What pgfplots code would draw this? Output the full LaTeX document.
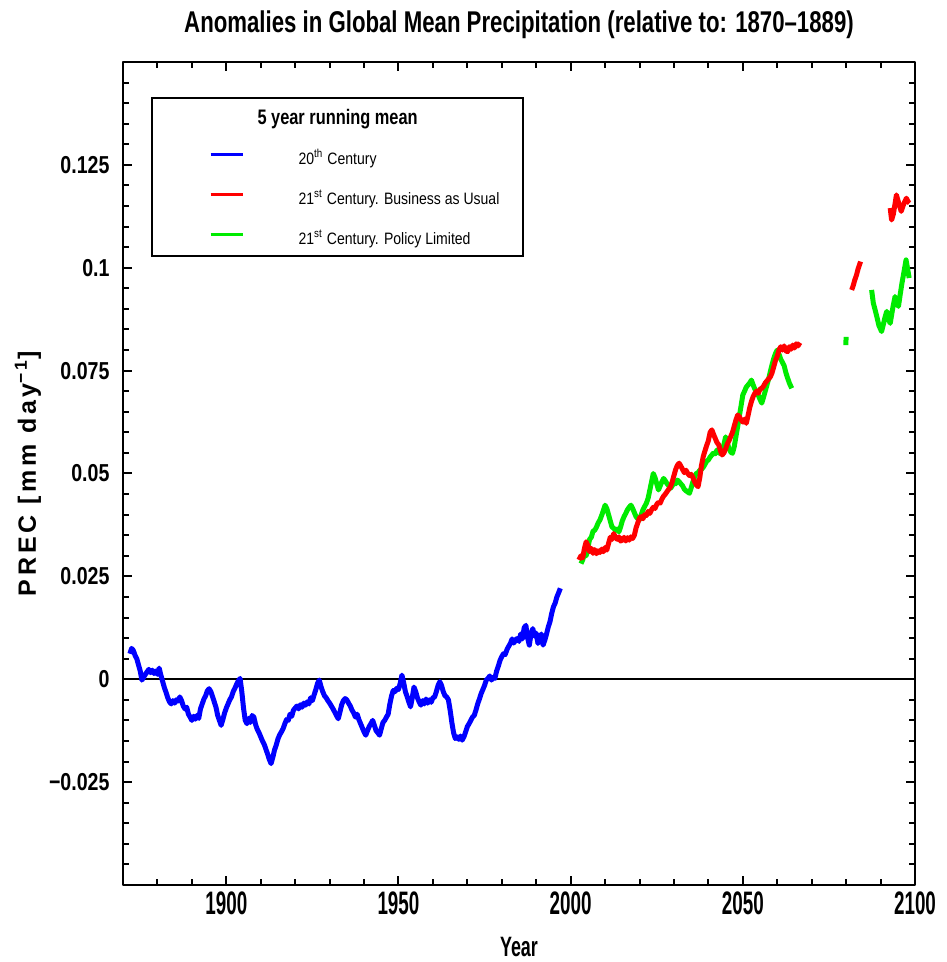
\documentclass[border=0pt]{standalone}
\usepackage{fontspec}
\usepackage{pgfplots}
\pgfplotsset{compat=1.18}
\setmainfont{Liberation Sans}
\newfontfamily\titlefont{Liberation Sans}[FakeStretch=0.74]
\newfontfamily\xtickfont{Liberation Sans}[FakeStretch=0.58]
\newfontfamily\xlabfont{Liberation Sans}[FakeStretch=0.64]
\newfontfamily\ytickfont{Liberation Sans}[FakeStretch=0.80]
\newfontfamily\legtitlefont{Liberation Sans}[FakeStretch=0.78]
\newfontfamily\legfont{Liberation Sans}[FakeStretch=0.85]
\newfontfamily\ylabfont{Liberation Sans}[LetterSpace=15]
\definecolor{bauRed}{RGB}{255,0,0}
\definecolor{polGreen}{RGB}{0,235,0}
\definecolor{cenBlue}{RGB}{0,0,255}

\begin{document}
\begin{tikzpicture}
\begin{axis}[
  name=ax, scale only axis, width=316.8pt, height=329.2pt,
  xmin=1870, xmax=2100, ymin=-0.05, ymax=0.15,
  xtick={1900,1950,2000,2050,2100},
  xticklabels={1900,1950,2000,2050,2100},
  minor xtick={1880,1890,1900,1910,1920,1930,1940,1960,1970,1980,1990,2010,2020,2030,2040,2060,2070,2080,2090},
  ytick={-0.05,-0.025,0,0.025,0.05,0.075,0.1,0.125,0.15},
  yticklabels={,−0.025,0,0.025,0.05,0.075,0.1,0.125,},
  minor y tick num=4,
  tick align=inside, major tick length=3.6pt, minor tick length=2.4pt,
  every tick/.style={black, line width=0.8pt},
  axis line style={line width=0.9pt},
  xticklabel style={font=\xtickfont\bfseries\fontsize{13}{15}\selectfont, anchor=base, yshift=-11.6pt, inner sep=0pt},
  yticklabel style={font=\ytickfont\bfseries\fontsize{9.8}{11}\selectfont, anchor=east, xshift=-5.2pt, inner sep=0pt},
  title={Anomalies in Global Mean Precipitation (relative to: 1870–1889)},
  title style={at={(0.5,1)}, anchor=base, yshift=5.6pt, inner sep=0pt,
    font=\titlefont\bfseries\fontsize{12}{14}\selectfont},
  xlabel={Year},
  xlabel style={at={(axis description cs:0.5,0)}, anchor=base, yshift=-28.7pt, inner sep=0pt,
    font=\xlabfont\bfseries\fontsize{11.2}{13}\selectfont},
  ylabel={PREC [mm day\textsuperscript{−1}]},
  ylabel style={at={(axis description cs:-0.12,0.5)}, anchor=center, inner sep=0pt,
    font=\ylabfont\bfseries\fontsize{10}{12}\selectfont},
  line join=round,
]
% reference line at zero anomaly
\addplot[black, line width=1pt] coordinates {(1870,0) (2100,0)};

% 20th century, 5 year running mean
\addplot[cenBlue, line width=2pt] table {
1872.0 0.0062
1872.5 0.0075
1873.0 0.0070
1873.5 0.0058
1874.0 0.0050
1874.5 0.0035
1875.0 0.0020
1875.5 -0.0002
1876.0 0.0005
1876.5 0.0012
1877.0 0.0018
1877.5 0.0024
1878.0 0.0016
1878.5 0.0022
1879.0 0.0014
1879.5 0.0020
1880.0 0.0012
1880.5 0.0027
1881.0 0.0010
1881.5 -0.0005
1882.0 -0.0020
1882.5 -0.0032
1883.0 -0.0045
1883.5 -0.0055
1884.0 -0.0060
1884.5 -0.0052
1885.0 -0.0058
1885.5 -0.0050
1886.0 -0.0053
1886.5 -0.0043
1887.0 -0.0052
1887.5 -0.0065
1888.0 -0.0072
1888.5 -0.0068
1889.0 -0.0085
1889.5 -0.0092
1890.0 -0.0100
1890.5 -0.0090
1891.0 -0.0097
1891.5 -0.0088
1892.0 -0.0095
1892.5 -0.0072
1893.0 -0.0060
1893.5 -0.0048
1894.0 -0.0040
1894.5 -0.0028
1895.0 -0.0023
1895.5 -0.0030
1896.0 -0.0042
1896.5 -0.0055
1897.0 -0.0068
1897.5 -0.0088
1898.0 -0.0100
1898.5 -0.0112
1899.0 -0.0098
1899.5 -0.0082
1900.0 -0.0070
1900.5 -0.0060
1901.0 -0.0050
1901.5 -0.0043
1902.0 -0.0030
1902.5 -0.0022
1903.0 -0.0012
1903.5 -0.0004
1904.0 0.0002
1904.5 -0.0030
1905.0 -0.0070
1905.5 -0.0100
1906.0 -0.0108
1906.5 -0.0095
1907.0 -0.0105
1907.5 -0.0088
1908.0 -0.0092
1908.5 -0.0110
1909.0 -0.0122
1909.5 -0.0130
1910.0 -0.0140
1910.5 -0.0150
1911.0 -0.0158
1911.5 -0.0170
1912.0 -0.0182
1912.5 -0.0195
1913.0 -0.0205
1913.5 -0.0190
1914.0 -0.0172
1914.5 -0.0160
1915.0 -0.0145
1915.5 -0.0135
1916.0 -0.0128
1916.5 -0.0120
1917.0 -0.0108
1917.5 -0.0098
1918.0 -0.0100
1918.5 -0.0085
1919.0 -0.0090
1919.5 -0.0075
1920.0 -0.0070
1920.5 -0.0065
1921.0 -0.0072
1921.5 -0.0062
1922.0 -0.0068
1922.5 -0.0058
1923.0 -0.0063
1923.5 -0.0055
1924.0 -0.0060
1924.5 -0.0045
1925.0 -0.0052
1925.5 -0.0038
1926.0 -0.0025
1926.5 -0.0010
1927.0 -0.0002
1927.5 -0.0018
1928.0 -0.0030
1928.5 -0.0040
1929.0 -0.0045
1929.5 -0.0052
1930.0 -0.0058
1930.5 -0.0065
1931.0 -0.0072
1931.5 -0.0080
1932.0 -0.0088
1932.5 -0.0096
1933.0 -0.0080
1933.5 -0.0062
1934.0 -0.0052
1934.5 -0.0047
1935.0 -0.0050
1935.5 -0.0058
1936.0 -0.0065
1936.5 -0.0075
1937.0 -0.0082
1937.5 -0.0092
1938.0 -0.0085
1938.5 -0.0098
1939.0 -0.0108
1939.5 -0.0118
1940.0 -0.0128
1940.5 -0.0136
1941.0 -0.0125
1941.5 -0.0115
1942.0 -0.0108
1942.5 -0.0100
1943.0 -0.0112
1943.5 -0.0125
1944.0 -0.0130
1944.5 -0.0136
1945.0 -0.0120
1945.5 -0.0105
1946.0 -0.0100
1946.5 -0.0092
1947.0 -0.0085
1947.5 -0.0060
1948.0 -0.0040
1948.5 -0.0027
1949.0 -0.0030
1949.5 -0.0022
1950.0 -0.0025
1950.5 -0.0010
1951.0 0.0010
1951.5 -0.0008
1952.0 -0.0030
1952.5 -0.0042
1953.0 -0.0055
1953.5 -0.0067
1954.0 -0.0045
1954.5 -0.0019
1955.0 -0.0030
1955.5 -0.0045
1956.0 -0.0055
1956.5 -0.0063
1957.0 -0.0052
1957.5 -0.0060
1958.0 -0.0048
1958.5 -0.0058
1959.0 -0.0050
1959.5 -0.0056
1960.0 -0.0045
1960.5 -0.0043
1961.0 -0.0030
1961.5 -0.0015
1962.0 -0.0006
1962.5 -0.0015
1963.0 -0.0030
1963.5 -0.0040
1964.0 -0.0043
1964.5 -0.0050
1965.0 -0.0075
1965.5 -0.0105
1966.0 -0.0130
1966.5 -0.0144
1967.0 -0.0140
1967.5 -0.0146
1968.0 -0.0138
1968.5 -0.0148
1969.0 -0.0140
1969.5 -0.0128
1970.0 -0.0115
1970.5 -0.0108
1971.0 -0.0100
1971.5 -0.0092
1972.0 -0.0088
1972.5 -0.0075
1973.0 -0.0060
1973.5 -0.0048
1974.0 -0.0035
1974.5 -0.0025
1975.0 -0.0015
1975.5 -0.0002
1976.0 0.0002
1976.5 0.0008
1977.0 -0.0002
1977.5 0.0004
1978.0 0.0002
1978.5 0.0020
1979.0 0.0032
1979.5 0.0046
1980.0 0.0055
1980.5 0.0062
1981.0 0.0060
1981.5 0.0072
1982.0 0.0080
1982.5 0.0087
1983.0 0.0098
1983.5 0.0088
1984.0 0.0096
1984.5 0.0099
1985.0 0.0092
1985.5 0.0110
1986.0 0.0098
1986.5 0.0125
1987.0 0.0131
1987.5 0.0100
1988.0 0.0083
1988.5 0.0110
1989.0 0.0123
1989.5 0.0105
1990.0 0.0112
1990.5 0.0087
1991.0 0.0100
1991.5 0.0110
1992.0 0.0083
1992.5 0.0095
1993.0 0.0110
1993.5 0.0127
1994.0 0.0140
1994.5 0.0160
1995.0 0.0176
1995.5 0.0185
1996.0 0.0200
1996.5 0.0210
1997.0 0.0221
};

% 21st century, policy limited
\addplot[polGreen, line width=2pt] table {
2003.0 0.0281
2003.5 0.0290
2004.0 0.0305
2004.5 0.0300
2005.0 0.0320
2005.5 0.0340
2006.0 0.0345
2006.5 0.0360
2007.0 0.0362
2007.5 0.0370
2008.0 0.0380
2008.5 0.0387
2009.0 0.0398
2009.5 0.0410
2010.0 0.0423
2010.5 0.0415
2011.0 0.0400
2011.5 0.0385
2012.0 0.0370
2012.5 0.0367
2013.0 0.0362
2013.5 0.0365
2014.0 0.0358
2014.5 0.0370
2015.0 0.0385
2015.5 0.0395
2016.0 0.0403
2016.5 0.0412
2017.0 0.0418
2017.5 0.0423
2018.0 0.0415
2018.5 0.0405
2019.0 0.0395
2019.5 0.0390
2020.0 0.0387
2020.5 0.0400
2021.0 0.0412
2021.5 0.0420
2022.0 0.0428
2022.5 0.0440
2023.0 0.0460
2023.5 0.0480
2024.0 0.0500
2024.5 0.0490
2025.0 0.0475
2025.5 0.0460
2026.0 0.0470
2026.5 0.0480
2027.0 0.0488
2027.5 0.0482
2028.0 0.0475
2028.5 0.0470
2029.0 0.0464
2029.5 0.0470
2030.0 0.0478
2030.5 0.0475
2031.0 0.0484
2031.5 0.0480
2032.0 0.0475
2032.5 0.0470
2033.0 0.0462
2033.5 0.0458
2034.0 0.0455
2034.5 0.0452
2035.0 0.0465
2035.5 0.0480
2036.0 0.0492
2036.5 0.0500
2037.0 0.0502
2037.5 0.0508
2038.0 0.0510
2038.5 0.0515
2039.0 0.0522
2039.5 0.0530
2040.0 0.0533
2040.5 0.0540
2041.0 0.0545
2041.5 0.0550
2042.0 0.0548
2042.5 0.0557
2043.0 0.0552
2043.5 0.0548
2044.0 0.0553
2044.5 0.0570
2045.0 0.0589
2045.5 0.0575
2046.0 0.0560
2046.5 0.0552
2047.0 0.0549
2047.5 0.0565
2048.0 0.0590
2048.5 0.0614
2049.0 0.0640
2049.5 0.0665
2050.0 0.0691
2050.5 0.0700
2051.0 0.0710
2051.5 0.0715
2052.0 0.0720
2052.5 0.0727
2053.0 0.0715
2053.5 0.0705
2054.0 0.0698
2054.5 0.0690
2055.0 0.0680
2055.5 0.0671
2056.0 0.0685
2056.5 0.0700
2057.0 0.0715
2057.5 0.0730
2058.0 0.0748
2058.5 0.0765
2059.0 0.0780
2059.5 0.0792
2060.0 0.0800
2060.5 0.0790
2061.0 0.0778
2061.5 0.0770
2062.0 0.0762
2062.5 0.0745
2063.0 0.0732
2063.5 0.0720
2064.2 0.0707
};
\addplot[polGreen, line width=2pt] table {
2079.9 0.0812
2080.0 0.0832
};
\addplot[polGreen, line width=2pt] table {
2087.4 0.0946
2087.9 0.0914
2088.5 0.0895
2089.0 0.0878
2089.5 0.0860
2090.3 0.0845
2090.8 0.0862
2091.3 0.0880
2091.8 0.0894
2092.3 0.0875
2092.8 0.0865
2093.5 0.0900
2094.2 0.0930
2094.7 0.0915
2095.2 0.0906
2095.7 0.0935
2096.2 0.0962
2096.8 0.0990
2097.4 0.1019
2097.9 0.0995
2098.3 0.0975
};

% 21st century, business as usual
\addplot[bauRed, line width=2pt] table {
2002.4 0.0290
2003.0 0.0300
2003.5 0.0295
2004.0 0.0318
2004.5 0.0334
2005.0 0.0325
2005.5 0.0310
2006.0 0.0318
2006.5 0.0306
2007.0 0.0315
2007.5 0.0305
2008.0 0.0312
2008.5 0.0308
2009.0 0.0316
2009.5 0.0310
2010.0 0.0320
2010.5 0.0314
2011.0 0.0330
2011.5 0.0345
2012.0 0.0340
2012.5 0.0354
2013.0 0.0345
2013.5 0.0340
2014.0 0.0346
2014.5 0.0336
2015.0 0.0338
2015.5 0.0345
2016.0 0.0336
2016.5 0.0344
2017.0 0.0338
2017.5 0.0346
2018.0 0.0342
2018.5 0.0350
2019.0 0.0368
2019.5 0.0380
2020.0 0.0392
2020.5 0.0395
2021.0 0.0390
2021.5 0.0400
2022.0 0.0398
2022.5 0.0408
2023.0 0.0403
2023.5 0.0412
2024.0 0.0418
2024.5 0.0415
2025.0 0.0425
2025.5 0.0430
2026.0 0.0428
2026.5 0.0438
2027.0 0.0445
2027.5 0.0450
2028.0 0.0456
2028.5 0.0462
2029.0 0.0468
2029.5 0.0480
2030.0 0.0495
2030.5 0.0510
2031.0 0.0520
2031.5 0.0525
2032.0 0.0518
2032.5 0.0510
2033.0 0.0502
2033.5 0.0508
2034.0 0.0500
2034.5 0.0495
2035.0 0.0498
2035.5 0.0490
2036.0 0.0480
2036.5 0.0472
2037.0 0.0468
2037.5 0.0490
2038.0 0.0520
2038.5 0.0541
2039.0 0.0555
2039.5 0.0568
2040.0 0.0580
2040.5 0.0600
2041.0 0.0606
2041.5 0.0595
2042.0 0.0585
2042.5 0.0575
2043.0 0.0570
2043.5 0.0555
2044.0 0.0545
2044.5 0.0550
2045.0 0.0560
2045.5 0.0572
2046.0 0.0580
2046.5 0.0590
2047.0 0.0600
2047.5 0.0615
2048.0 0.0630
2048.5 0.0642
2049.0 0.0638
2049.5 0.0630
2050.0 0.0625
2050.5 0.0632
2051.0 0.0622
2051.5 0.0640
2052.0 0.0660
2052.5 0.0675
2053.0 0.0687
2053.5 0.0695
2054.0 0.0700
2054.5 0.0695
2055.0 0.0705
2055.5 0.0707
2056.0 0.0712
2056.5 0.0720
2057.0 0.0725
2057.5 0.0730
2058.0 0.0735
2058.5 0.0745
2059.0 0.0760
2059.5 0.0775
2060.0 0.0785
2060.5 0.0800
2061.0 0.0808
2061.5 0.0800
2062.0 0.0810
2062.5 0.0798
2063.0 0.0796
2063.5 0.0808
2064.0 0.0802
2064.5 0.0812
2065.0 0.0805
2065.5 0.0815
2066.0 0.0810
2066.6 0.0818
};
\addplot[bauRed, line width=2pt] table {
2081.6 0.0946
2082.0 0.0955
2082.5 0.0970
2083.0 0.0982
2083.5 0.0998
2084.2 0.1015
};
\addplot[bauRed, line width=2pt] table {
2092.8 0.1145
2093.2 0.1116
2093.7 0.1130
2094.2 0.1155
2094.6 0.1177
2095.0 0.1165
2095.5 0.1150
2096.0 0.1137
2096.5 0.1150
2097.0 0.1160
2097.5 0.1169
2098.0 0.1160
2098.4 0.1157
};
\end{axis}

% legend box
\node[draw=black, line width=0.9pt, inner sep=0pt, minimum width=148.4pt,
      minimum height=63.2pt, anchor=north west] (leg)
  at ([xshift=11.2pt, yshift=-14pt]ax.north west) {};
\node[anchor=base, inner sep=0pt, font=\legtitlefont\bfseries\fontsize{8.4}{10}\selectfont]
  at ([yshift=-11.2pt]leg.north) {5 year running mean};
\node[anchor=base west, inner sep=0pt, font=\legfont\fontsize{6.6}{8}\selectfont]
  at ([xshift=23.6pt, yshift=-27.2pt]leg.north west)
  {\textcolor{cenBlue}{\rule[3.4pt]{12.8pt}{1.2pt}}\hspace{22.4pt}20\textsuperscript{th} Century};
\node[anchor=base west, inner sep=0pt, font=\legfont\fontsize{6.6}{8}\selectfont]
  at ([xshift=23.6pt, yshift=-43.2pt]leg.north west)
  {\textcolor{bauRed}{\rule[3.4pt]{12.8pt}{1.2pt}}\hspace{22.4pt}21\textsuperscript{st} Century. Business as Usual};
\node[anchor=base west, inner sep=0pt, font=\legfont\fontsize{6.6}{8}\selectfont]
  at ([xshift=23.6pt, yshift=-59.2pt]leg.north west)
  {\textcolor{polGreen}{\rule[3.4pt]{12.8pt}{1.2pt}}\hspace{22.4pt}21\textsuperscript{st} Century. Policy Limited};

% page extent
\path ([xshift=-49.2pt, yshift=-30.8pt]ax.south west) coordinate (bl);
\path ([xshift=12.8pt, yshift=24.8pt]ax.north east) coordinate (tr);
\pgfresetboundingbox
\useasboundingbox (bl) rectangle (tr);
\end{tikzpicture}
\end{document}
